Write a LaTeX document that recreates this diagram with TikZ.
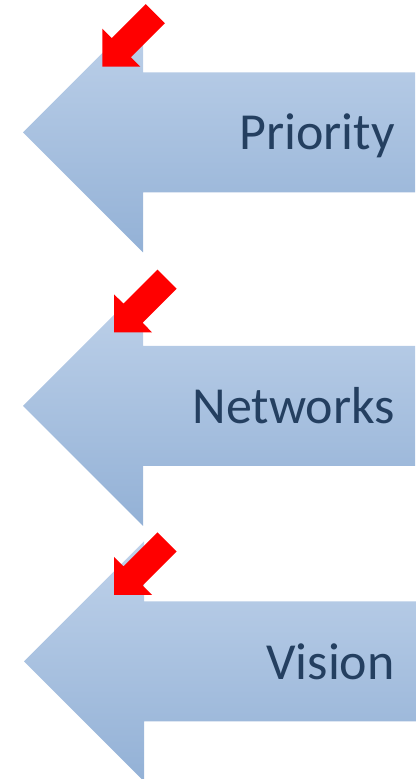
\documentclass[tikz,border=0pt]{standalone}
\usepackage{fontspec}
\setmainfont{Carlito}
\definecolor{arrowtop}{HTML}{BFD2EA}
\definecolor{arrowbot}{HTML}{93B1D6}
\definecolor{labelblue}{HTML}{243F60}
\tikzset{
  bigarrow/.pic={
    \shade[top color=arrowtop, bottom color=arrowbot]
      (392,60) -- (120,60) -- (120,120) -- (0,0) -- (120,-120) -- (120,-60) -- (392,-60) -- cycle;
  },
  redarrow/.pic={
    \fill[red]
      (0,0) -- (0,38) -- (9.5,28.6) -- (43.5,62.6) -- (62.6,43.5) -- (28.6,9.5) -- (38,0) -- cycle;
  },
  arrowlabel/.style={anchor=base east, inner sep=0pt, text=labelblue, font=\fontsize{52}{60}\selectfont}
}
\begin{document}
\begin{tikzpicture}[x=1pt,y=1pt]
\useasboundingbox (0,0) rectangle (417,779);
\clip (0,0) rectangle (417,779);
% big blue arrows
\pic at (23,646.5) {bigarrow};
\pic at (23,373) {bigarrow};
\pic at (24,117.5) {bigarrow};
% labels
\node[arrowlabel] (priority) at (395,629) {Priority};
\node[arrowlabel] (networks) at (395,355) {Networks};
\node[arrowlabel] (vision) at (395,99) {Vision};
% red pointer arrows
\pic at (102.3,712.3) {redarrow};
\pic at (114,446.7) {redarrow};
\pic at (114,184) {redarrow};
\end{tikzpicture}
\end{document}
